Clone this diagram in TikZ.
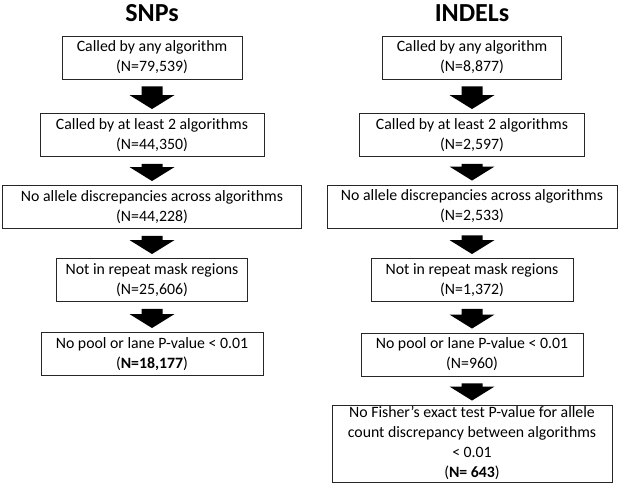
\documentclass[tikz,border=0pt]{standalone}
\usepackage{fontspec}
\setmainfont{Carlito}
\usetikzlibrary{calc}

% thick block arrow from the bottom of one box to the top of the next
\newcommand{\blockarrow}[2]{%
  \fill [black] let \p1=(#1.south), \p2=(#2.north) in
    (\x1-10.5pt,\y1-7pt) -- (\x1+10.5pt,\y1-7pt) -- (\x1+10.5pt,\y2+18pt)
    -- (\x1+22.5pt,\y2+18pt) -- (\x1,\y2+4pt) -- (\x1-22.5pt,\y2+18pt)
    -- (\x1-10.5pt,\y2+18pt) -- cycle;}

\begin{document}
\begin{tikzpicture}[x=1pt,y=1pt]
\tikzstyle{every node}+=[inner sep=0pt]
\tikzstyle{stage}=[draw=black!85, line width=0.9pt, fill=white, align=center, minimum height=43pt, font=\fontsize{15.8}{20}\selectfont]
\tikzstyle{heading}=[font=\fontsize{26}{30}\selectfont\bfseries, anchor=base]
\useasboundingbox (0,0) rectangle (625,-495);
% SNPs
\node [heading] (snp) at (152,-22) {SNPs};
\node [stage, minimum width=180pt] (s1) at (152,-57.5) {Called by any algorithm\\(N=79,539)};
\node [stage, minimum width=224pt] (s2) at (152,-135) {Called by at least 2 algorithms\\(N=44,350)};
\node [stage, minimum width=299pt] (s3) at (152,-207) {No allele discrepancies across algorithms\\(N=44,228)};
\node [stage, minimum width=191pt] (s4) at (152,-280) {Not in repeat mask regions\\(N=25,606)};
\node [stage, minimum width=222pt] (s5) at (152,-354) {No pool or lane P-value < 0.01\\(\textbf{N=18,177})};
\blockarrow{s1}{s2}
\blockarrow{s2}{s3}
\blockarrow{s3}{s4}
\blockarrow{s4}{s5}
% INDELs
\node [heading] (indel) at (472,-22) {INDELs};
\node [stage, minimum width=179pt] (i1) at (472,-57.5) {Called by any algorithm\\(N=8,877)};
\node [stage, minimum width=225pt] (i2) at (472,-135) {Called by at least 2 algorithms\\(N=2,597)};
\node [stage, minimum width=290pt] (i3) at (472,-206.5) {No allele discrepancies across algorithms\\(N=2,533)};
\node [stage, minimum width=202pt] (i4) at (472,-280) {Not in repeat mask regions\\(N=1,372)};
\node [stage, minimum width=222pt] (i5) at (472,-354.5) {No pool or lane P-value < 0.01\\(N=960)};
\node [stage, minimum width=280pt, minimum height=77pt] (i6) at (472,-443.5) {No Fisher’s exact test P-value for allele\\count discrepancy between algorithms\\< 0.01\\(\textbf{N= 643})};
\blockarrow{i1}{i2}
\blockarrow{i2}{i3}
\blockarrow{i3}{i4}
\blockarrow{i4}{i5}
\blockarrow{i5}{i6}
\end{tikzpicture}
\end{document}
